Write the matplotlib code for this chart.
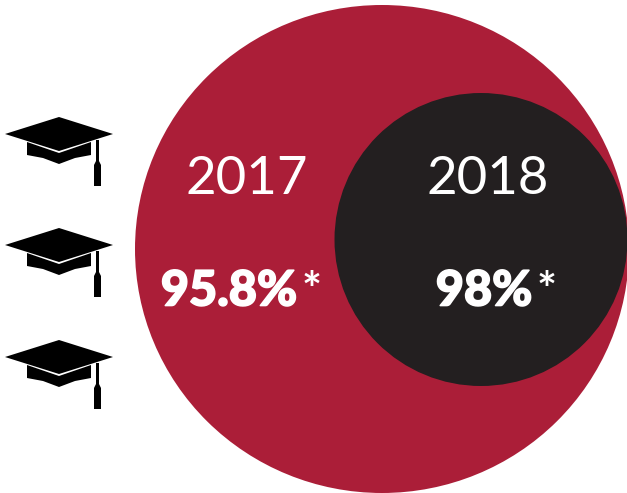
import matplotlib
matplotlib.use('Agg')
import matplotlib.pyplot as plt
import matplotlib.patheffects as pe
from matplotlib.patches import Circle, Ellipse, Polygon, Rectangle

# data
years = ['2017', '2018']
rates = ['95.8%', '98%']
year_x = [247, 488]
rate_x = [229, 484]
star_x = [312, 547]

cap_offsets = [0, 111, 223]

red = '#ab1e38'
dark = '#231f20'

plt.rcParams['font.family'] = ['Lato', 'DejaVu Sans']

fig = plt.figure(figsize=(6.27, 4.93), dpi=100)
ax = fig.add_axes([0, 0, 1, 1])
ax.set_xlim(0, 627)
ax.set_ylim(493, 0)
ax.axis('off')

# circles
ax.add_patch(Ellipse((382, 249), 494, 488, color=red, lw=0))
ax.add_patch(Circle((481, 239.5), 146.5, color=dark, lw=0))

# labels
bold = [pe.withStroke(linewidth=1.2, foreground='white')]
for i in range(2):
    ax.text(year_x[i], 180, years[i], color='white', fontsize=38, ha='center', va='center')
    ax.text(rate_x[i], 291, rates[i], color='white', fontsize=35, fontweight='black', ha='center', va='center',
            path_effects=bold)
    ax.text(star_x[i], 292, '*', color='white', fontsize=34, fontweight='bold', ha='center', va='center')

# graduation caps
for dy in cap_offsets:
    ax.add_patch(Polygon([(5, 134+dy), (59, 117+dy), (113, 134+dy), (59, 151+dy)], color='black', lw=0))
    ax.add_patch(Polygon([(27, 142+dy), (59, 153+dy), (91, 142+dy), (91, 155+dy), (75, 158+dy),
                          (59, 164+dy), (43, 158+dy), (27, 155+dy)], color='black', lw=0))
    ax.add_patch(Rectangle((96, 140+dy), 3, 25, color='black', lw=0))
    ax.add_patch(Polygon([(96, 161+dy), (99, 161+dy), (101, 165+dy), (101, 186+dy), (94, 186+dy), (94, 165+dy)],
                         color='black', lw=0))

fig.savefig('out.png', dpi=100)
